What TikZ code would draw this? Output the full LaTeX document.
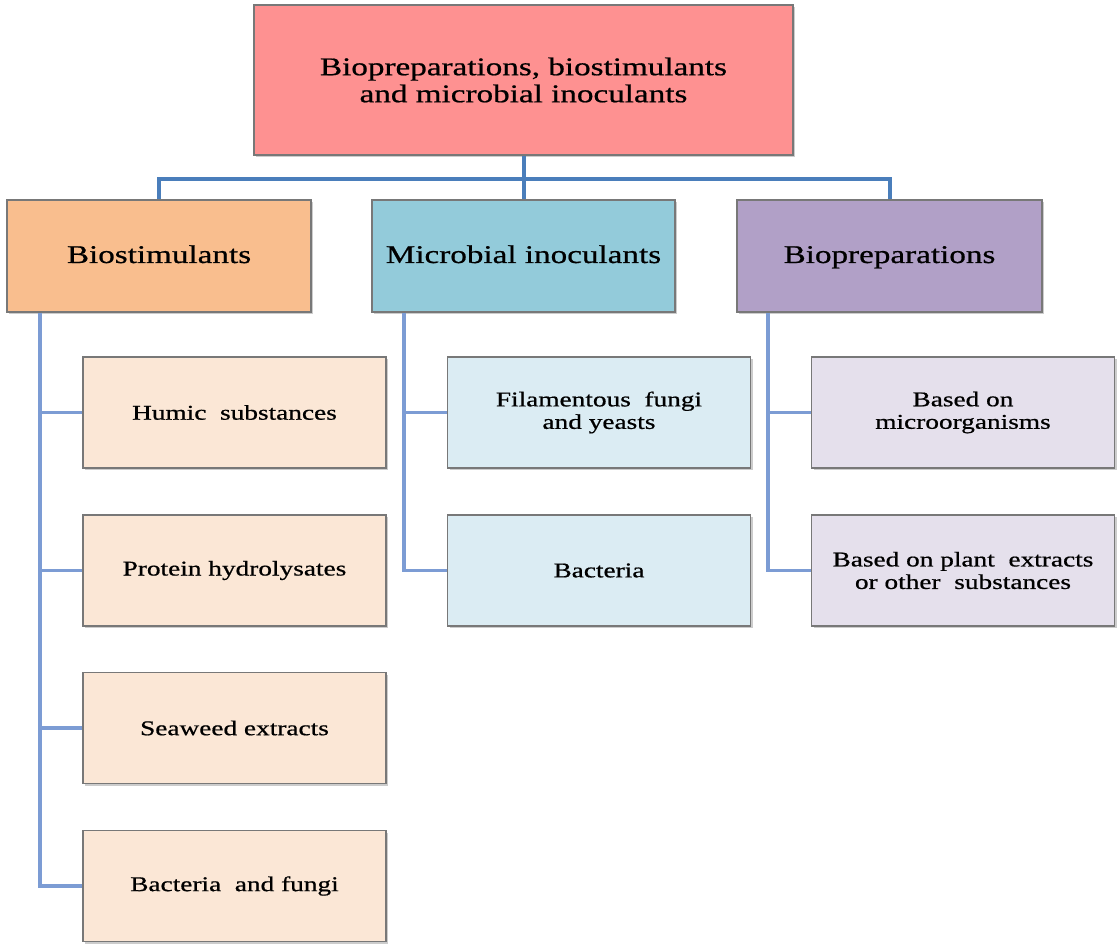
\documentclass[tikz,border=0pt]{standalone}
\usepackage{fontspec}
\setmainfont{Liberation Serif}[FakeStretch=1.3,FakeBold=0.7]
\usetikzlibrary{shadows}
\definecolor{cTop}{RGB}{254,145,145}
\definecolor{cBs}{RGB}{249,190,142}
\definecolor{cMi}{RGB}{147,203,218}
\definecolor{cBp}{RGB}{177,160,199}
\definecolor{cBsL}{RGB}{251,231,214}
\definecolor{cMiL}{RGB}{219,236,243}
\definecolor{cBpL}{RGB}{229,224,236}
\definecolor{cBorder}{RGB}{120,120,120}
\definecolor{cConn}{RGB}{74,126,187}
\definecolor{cSpine}{RGB}{124,156,212}
\tikzset{
  box/.style={draw=cBorder, line width=1.2pt, rectangle, inner sep=0pt, align=center,
    drop shadow={shadow xshift=2pt, shadow yshift=-2pt, fill=black!40, opacity=0.5}},
  hdr/.style={box, minimum height=112pt, font=\fontsize{25.5}{27}\selectfont},
  hdrone/.style={hdr, text height=20pt, text depth=6pt},
  sub/.style={box, minimum width=303pt, minimum height=111pt, font=\fontsize{21}{22.5}\selectfont},
  conn/.style={draw=cConn, line width=4pt},
  spine/.style={draw=cSpine, line width=3.5pt}
}
\begin{document}
\begin{tikzpicture}[x=1pt,y=-1pt]
\useasboundingbox (0,0) rectangle (1117,944);
% top
\node[hdr, fill=cTop, minimum width=539pt, minimum height=150pt] (top) at (523.5,80) {Biopreparations, biostimulants\\and microbial inoculants};
% headers
\node[hdrone, fill=cBs, minimum width=304pt] (bs) at (159,256) {Biostimulants};
\node[hdrone, fill=cMi, minimum width=303pt] (mi) at (523.5,256) {Microbial inoculants};
\node[hdrone, fill=cBp, minimum width=305pt] (bp) at (889.5,256) {Biopreparations};
% sub boxes
\node[sub, fill=cBsL] (b1) at (234.5,412.5) {Humic~~substances};
\node[sub, fill=cBsL] (b2) at (234.5,570.5) {Protein hydrolysates};
\node[sub, fill=cBsL] (b3) at (234.5,728) {Seaweed extracts};
\node[sub, fill=cBsL] (b4) at (234.5,886) {Bacteria~~and fungi};
\node[sub, fill=cMiL] (m1) at (599,412.5) {Filamentous~~fungi\\and yeasts};
\node[sub, fill=cMiL] (m2) at (599,570.5) {Bacteria};
\node[sub, fill=cBpL] (p1) at (963,412.5) {Based on\\microorganisms};
\node[sub, fill=cBpL] (p2) at (963,570.5) {Based on plant~~extracts\\or other~~substances};
% spine x positions
\coordinate (lx) at (40,0);
\coordinate (mx) at (404,0);
\coordinate (rx) at (768,0);
\coordinate (bus) at (0,179);
% top connectors
\draw[conn] (top.south) -- (mi.north);
\draw[conn] (bs.north) |- (bp.north |- bus) -- (bp.north);
% spines
\draw[spine] (bs.south -| lx) |- (b4.west);
\draw[spine] (b1.west -| lx) -- (b1.west);
\draw[spine] (b2.west -| lx) -- (b2.west);
\draw[spine] (b3.west -| lx) -- (b3.west);
\draw[spine] (mi.south -| mx) |- (m2.west);
\draw[spine] (m1.west -| mx) -- (m1.west);
\draw[spine] (bp.south -| rx) |- (p2.west);
\draw[spine] (p1.west -| rx) -- (p1.west);
\end{tikzpicture}
\end{document}
